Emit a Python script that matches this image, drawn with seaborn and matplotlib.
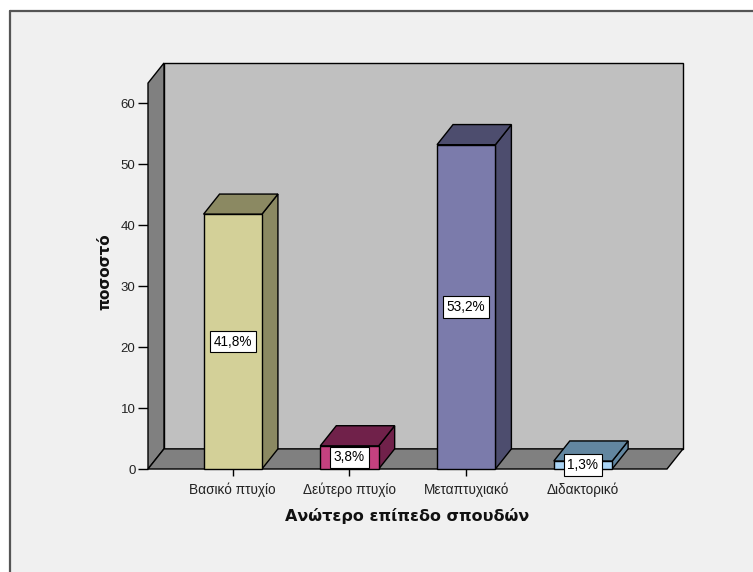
import matplotlib
matplotlib.use("Agg")
import matplotlib.pyplot as plt
from matplotlib.patches import Polygon, Rectangle
from matplotlib.lines import Line2D
import seaborn as sns

categories = ["Βασικό πτυχίο", "Δεύτερο πτυχίο", "Μεταπτυχιακό", "Διδακτορικό"]
percent = [41.8, 3.8, 53.2, 1.3]
value_labels = ["41,8%", "3,8%", "53,2%", "1,3%"]
y_ticks = [0, 10, 20, 30, 40, 50, 60]

front_colors = ["#d3d098", "#c4417f", "#7b7bab", "#aad4f5"]
shade_colors = ["#8b8962", "#70214a", "#4d4d6e", "#6286a0"]

sns.set_theme(style="white")
plt.rcParams["font.family"] = ["Liberation Sans", "DejaVu Sans"]

fig = plt.figure(figsize=(7.53, 5.72), dpi=100)
fig.patch.set_facecolor("#f0f0f0")

# outer frame: white margin with a dark line at top and left
W, H = 753, 572
fig.patches.append(Rectangle((0, 0), 1, 1, transform=fig.transFigure,
                             facecolor="white", edgecolor="none", zorder=-3))
fig.patches.append(Rectangle((10 / W, 0), 1, 1 - 11 / H, transform=fig.transFigure,
                             facecolor="#f0f0f0", edgecolor="none", zorder=-2))
fig.lines.append(Line2D([10 / W, 1], [1 - 11 / H, 1 - 11 / H], transform=fig.transFigure,
                        color="#555555", lw=1.6))
fig.lines.append(Line2D([10 / W, 10 / W], [0, 1 - 11 / H], transform=fig.transFigure,
                        color="#555555", lw=1.6))

ax = fig.add_axes([148 / W, (H - 469) / H, 535 / W, (469 - 63) / H])
ax.set_facecolor("none")

# depth of the pseudo-3D projection, in data units
DX = 0.137
DY = 3.3
XMIN = -0.726
XMAX = 3.72 + DX
YTOP = 66.6

ax.set_xlim(XMIN, XMAX)
ax.set_ylim(0, YTOP)

edge = dict(edgecolor="black", linewidth=1.0, clip_on=False, joinstyle="miter")
# back wall, left wall, floor
ax.add_patch(Polygon([(XMIN + DX, DY), (XMAX, DY), (XMAX, YTOP), (XMIN + DX, YTOP)],
                     facecolor="#c0c0c0", zorder=0.5, **edge))
ax.add_patch(Polygon([(XMIN, 0), (XMIN + DX, DY), (XMIN + DX, YTOP), (XMIN, YTOP - DY)],
                     facecolor="#808080", zorder=0.6, **edge))
ax.add_patch(Polygon([(XMIN, 0), (XMAX - DX, 0), (XMAX, DY), (XMIN + DX, DY)],
                     facecolor="#808080", zorder=0.6, **edge))

sns.barplot(x=categories, y=percent, hue=categories, palette=front_colors,
            saturation=1, width=0.5, edgecolor="black", linewidth=1.0,
            legend=False, ax=ax, zorder=3)
ax.set_xlim(XMIN, XMAX)
ax.set_ylim(0, YTOP)

bars = [p for p in ax.patches if isinstance(p, Rectangle)]
bars = sorted(bars, key=lambda r: r.get_x())
for bar, shade, lab in zip(bars, shade_colors, value_labels):
    x0 = bar.get_x()
    x1 = x0 + bar.get_width()
    v = bar.get_height()
    bar.set_clip_on(False)
    ax.add_patch(Polygon([(x1, 0), (x1 + DX, DY), (x1 + DX, v + DY), (x1, v)],
                         facecolor=shade, zorder=2.5, **edge))
    ax.add_patch(Polygon([(x0, v), (x1, v), (x1 + DX, v + DY), (x0 + DX, v + DY)],
                         facecolor=shade, zorder=2.5, **edge))
    ax.text((x0 + x1) / 2, v / 2, lab, ha="center", va="center", fontsize=9.8,
            color="black", zorder=5,
            bbox=dict(boxstyle="square,pad=0.28", facecolor="white",
                      edgecolor="black", linewidth=0.8))

for s in ax.spines.values():
    s.set_visible(False)

ax.set_yticks(y_ticks)
ax.set_yticklabels([str(t) for t in y_ticks], fontsize=9.5)
ax.tick_params(axis="y", left=True, length=7, width=1, color="black", pad=2,
               labelcolor="#222222")
ax.tick_params(axis="x", bottom=True, length=5, width=1, color="black", pad=5,
               labelsize=9.8, labelcolor="#222222")
ax.set_xlabel("")
ax.set_ylabel("")

fig.text(407 / W, 1 - 516 / H, "Ανώτερο επίπεδο σπουδών", ha="center", va="center",
         fontsize=11.5, fontweight="bold", family="DejaVu Sans", color="#111111")
fig.text(105 / W, 1 - 272 / H, "ποσοστό", ha="center", va="center", rotation=90,
         fontsize=11, fontweight="bold", family="DejaVu Sans", color="#111111")

fig.savefig("out.png", dpi=100, facecolor=fig.get_facecolor())
